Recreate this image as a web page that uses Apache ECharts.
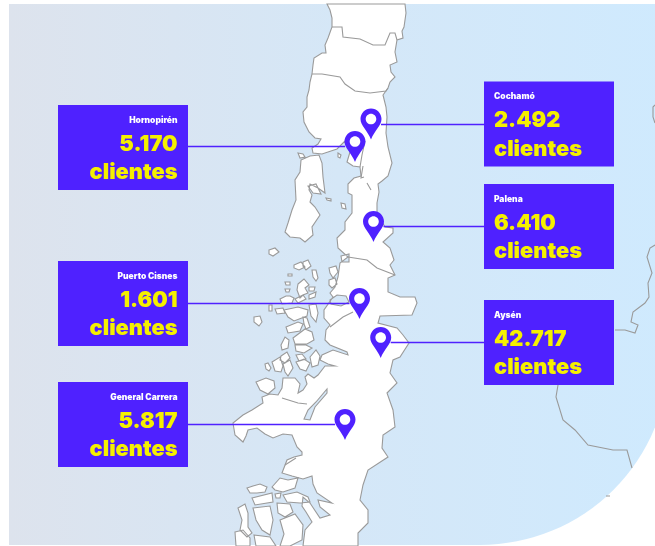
<!DOCTYPE html>
<html>
<head>
<meta charset="utf-8">
<style>html,body{margin:0;padding:0;background:#fff}#main{width:655px;height:546px}</style>
<script src="https://cdn.jsdelivr.net/npm/echarts@6/dist/echarts.min.js"></script>
</head>
<body>
<div id="main"></div>
<script>
// datos
var comunas = ['Hornopirén', 'Cochamó', 'Palena', 'Puerto Cisnes', 'Aysén', 'General Carrera'];
var clientes = [5170, 2492, 6410, 1601, 42717, 5817];
var unidad = 'clientes';
// punta de cada pin, en coordenadas del mapa (x, -y de la lámina)
var pinLng = [355, 371, 373.5, 359.5, 380.7, 345];
var pinLat = [-162, -139.5, -242, -319, -358, -440];

// contornos del mapa, trazados a mano sobre la lámina
var tierraFirme = [[327,4],[330,10],[332,18],[332,27],[328,38],[325,45],[326,53],[322,53],[314,58],[313,65],[312,74],[310,82],[309,90],[307,97],[307,107],[303,112],[304,122],[309,132],[315,138],[321,139],[318,144],[312,148],[313,153],[322,154],[337,149],[345,141],[350,152],[347,162],[353,166],[360,167],[361,176],[354,178],[348,184],[348,193],[352,195],[352,213],[345,222],[345,230],[337,238],[338,248],[348,257],[340,263],[338,277],[335,287],[330,293],[333,297],[324,310],[324,318],[330,325],[326,330],[325,340],[330,345],[347,352],[348,355],[333,350],[322,355],[320,360],[328,364],[335,366],[325,366],[318,375],[314,378],[308,374],[305,377],[307,384],[303,390],[298,393],[300,384],[295,378],[290,378],[283,378],[282,388],[278,395],[270,394],[262,397],[263,403],[252,410],[243,415],[233,423],[235,435],[243,442],[246,436],[248,430],[257,428],[265,434],[273,438],[283,434],[292,435],[297,447],[302,452],[302,455],[294,457],[287,460],[282,473],[292,476],[303,479],[312,476],[313,484],[317,493],[332,503],[318,500],[320,507],[330,515],[320,518],[310,503],[303,497],[302,506],[306,512],[312,522],[305,530],[303,546],[358,546],[358,533],[368,523],[368,510],[360,500],[363,485],[368,470],[388,457],[382,448],[383,435],[395,427],[393,410],[387,393],[397,383],[390,373],[393,360],[400,357],[409,343],[403,335],[397,328],[378,323],[380,316],[412,315],[417,303],[415,297],[400,297],[388,292],[388,278],[395,275],[390,265],[394,260],[390,248],[383,242],[393,233],[393,228],[385,227],[377,213],[377,203],[379,192],[378,184],[382,181],[388,176],[392,163],[388,147],[386,133],[387,117],[386,107],[383,95],[388,88],[390,82],[395,77],[391,72],[390,65],[397,62],[395,52],[397,40],[403,38],[402,31],[404,27],[406,13],[405,4]];
var lagunaSanRafael = [[327,389],[327,393],[315,407],[310,420],[304,419],[308,410],[316,402]];
var chiloe = [[301,160],[310,156],[319,155],[322,163],[323,177],[325,193],[318,188],[310,184],[309,190],[312,195],[310,202],[315,207],[320,215],[312,227],[313,235],[305,242],[300,238],[290,237],[285,232],[288,223],[292,210],[296,200],[295,180],[300,172]];
var islas = [
  [[298,153],[303,154],[305,157],[300,158]],
  [[338,153],[341,155],[340,158],[338,157]],
  [[269,250],[275,248],[279,252],[273,256],[269,254]],
  [[294,265],[301,262],[305,267],[299,270],[294,268]],
  [[303,262],[308,260],[311,266],[306,270],[303,266]],
  [[312,270],[316,270],[318,278],[316,281],[313,277]],
  [[288,274],[292,274],[292,276],[288,276]],
  [[285,282],[290,282],[290,285],[286,285]],
  [[285,289],[290,289],[289,292],[286,292]],
  [[298,284],[304,279],[309,285],[305,288],[308,293],[303,295],[300,298],[297,290]],
  [[309,287],[315,287],[314,291],[309,291]],
  [[309,295],[316,292],[315,297],[309,299]],
  [[280,299],[286,296],[290,296],[294,298],[292,303],[282,304]],
  [[295,299],[303,295],[306,299],[298,303]],
  [[269,305],[272,305],[272,311],[269,311]],
  [[254,317],[260,316],[262,322],[259,326],[254,322]],
  [[275,309],[283,308],[285,313],[277,314]],
  [[284,310],[298,307],[308,310],[307,316],[294,321],[288,317]],
  [[309,305],[316,304],[318,313],[316,322],[311,316]],
  [[286,327],[298,322],[303,324],[300,331],[288,333]],
  [[303,317],[307,318],[310,327],[306,329],[304,324]],
  [[293,338],[305,329],[312,332],[314,340],[307,344],[295,344]],
  [[281,345],[285,337],[289,340],[288,348],[282,350]],
  [[295,345],[306,345],[312,348],[304,353],[296,351]],
  [[281,356],[287,352],[290,358],[285,363],[280,360]],
  [[296,355],[302,354],[306,359],[299,361]],
  [[310,357],[316,350],[320,356],[318,365],[312,367]],
  [[329,268],[336,266],[338,272],[333,278],[330,273]],
  [[329,280],[335,278],[337,284],[332,288],[329,285]],
  [[330,300],[337,295],[346,296],[349,302],[341,306],[331,304]],
  [[341,256],[349,254],[349,262],[342,262]],
  [[308,186],[316,184],[321,194],[313,193]],
  [[326,198],[331,199],[331,201],[327,200]],
  [[341,203],[345,204],[346,209],[342,208]],
  [[265,364],[268,363],[271,368],[269,371],[266,369]],
  [[272,362],[280,357],[283,366],[281,372],[275,371]],
  [[283,364],[290,360],[293,368],[288,376],[285,372]],
  [[296,362],[304,359],[310,363],[306,371],[300,369]],
  [[256,382],[266,378],[274,381],[275,388],[268,394],[260,390]],
  [[247,488],[253,486],[260,484],[267,487],[265,492],[257,493],[250,493]],
  [[272,487],[280,478],[288,480],[298,478],[295,488],[283,492],[275,490]],
  [[275,494],[281,493],[280,498],[276,498]],
  [[283,495],[297,492],[308,497],[310,502],[300,503],[287,502]],
  [[238,508],[245,504],[248,513],[248,527],[252,533],[247,537],[240,530],[242,520]],
  [[235,532],[243,530],[250,538],[250,546],[236,546]],
  [[252,498],[272,493],[273,502],[255,505]],
  [[253,508],[270,506],[273,520],[270,535],[262,530],[256,520]],
  [[254,535],[270,537],[276,546],[256,546]],
  [[277,503],[290,504],[293,512],[285,517],[278,513]],
  [[280,520],[295,514],[303,525],[302,540],[290,546],[280,546],[284,534]]
];
var limites = [
  [[332,27],[342,27],[343,37],[360,39],[373,45],[385,45],[390,33],[395,33],[397,40]],
  [[312,74],[322,74],[340,77],[345,84],[355,91],[370,93],[386,91],[388,88]],
  [[348,257],[367,260],[377,268],[395,275]],
  [[353,312],[343,317],[330,327]],
  [[365,141],[362,155],[360,167]],
  [[363,166],[361,178],[364,177]],
  [[367,183],[371,190]],
  [[282,398],[298,403],[307,404]],
  [[285,465],[296,458]]
];
var argentina = [
  [[655,105],[653,107],[653,117],[655,123]],
  [[655,245],[650,248],[647,257],[652,273],[648,283],[649,297],[645,303],[633,312],[631,322],[638,325],[635,333],[625,330],[615,330]],
  [[558,385],[556,397],[563,420],[575,430],[588,445],[613,450],[627,450],[632,468]],
  [[606,496],[610,496]]
];

// de la lámina al mapa: y hacia arriba
function flip(p) { return [p[0], -p[1]]; }
function anillo(r) { return [r.map(flip)]; }
var poligonos = [[tierraFirme.map(flip), lagunaSanRafael.map(flip)], anillo(chiloe)].concat(islas.map(anillo));
var trazos = limites.concat(argentina).map(function (l) { return l.map(flip); });

echarts.registerMap('patagonia', {
  type: 'FeatureCollection',
  features: [
    { type: 'Feature', properties: { name: 'tierra' }, geometry: { type: 'MultiPolygon', coordinates: poligonos } },
    { type: 'Feature', properties: { name: 'limites' }, geometry: { type: 'MultiLineString', coordinates: trazos } }
  ]
});

// cajas: x, y de la esquina superior izquierda y lado del texto
var cajaW = 130, cajaH = 85;
var cajas = [
  { x: 58, y: 105, lado: 'right' },
  { x: 484, y: 81.5, lado: 'left' },
  { x: 484, y: 184, lado: 'left' },
  { x: 58, y: 261, lado: 'right' },
  { x: 484, y: 300, lado: 'left' },
  { x: 58, y: 382, lado: 'right' }
];
var azul = '#4f21ff', amarillo = '#f5f000';
var fuente = 'Inter, Lato, sans-serif';
var pinPath = 'path://M10.5 0C16.3 0 21 4.7 21 10.5C21 17 14 22 10.5 31C7 22 0 17 0 10.5C0 4.7 4.7 0 10.5 0ZM10.5 5.2C7.6 5.2 5.2 7.6 5.2 10.5C5.2 13.4 7.6 15.8 10.5 15.8C13.4 15.8 15.8 13.4 15.8 10.5C15.8 7.6 13.4 5.2 10.5 5.2Z';

function miles(n) { return String(n).replace(/\B(?=(\d{3})+$)/g, '.'); }

var elementos = [{
  type: 'rect', z: -10, silent: true,
  shape: { x: 9, y: 4, width: 660, height: 541, r: [0, 0, 189, 0] },
  style: {
    fill: new echarts.graphic.LinearGradient(0, 0, 1, 0, [
      { offset: 0, color: '#dde3ed' },
      { offset: 0.5, color: '#d5e7f7' },
      { offset: 1, color: '#cfeafe' }
    ])
  }
}];
var guias = [];
comunas.forEach(function (nombre, i) {
  var c = cajas[i], derecha = c.lado === 'right';
  var tx = derecha ? c.x + cajaW - 10.5 : c.x + 10;
  elementos.push({ type: 'rect', z: 50, silent: true, shape: { x: c.x, y: c.y, width: cajaW, height: cajaH }, style: { fill: azul } });
  [[nombre, 15, 8.5, '#ffffff'], [miles(clientes[i]), 39, 21.8, amarillo], [unidad, 67.5, 21.8, amarillo]].forEach(function (t) {
    elementos.push({
      type: 'text', z: 51, silent: true, x: tx, y: c.y + t[1],
      style: { text: t[0], font: '900 ' + t[2] + 'px ' + fuente, fill: t[3], align: c.lado, verticalAlign: 'middle' }
    });
  });
  // guia de la caja hasta la cabeza del pin
  var borde = derecha ? c.x + cajaW : c.x;
  var yGuia = pinLat[i] + 15.5;
  guias.push({ coords: [[borde, yGuia], [pinLng[i] + (derecha ? -10 : 10), yGuia]] });
});

var chart = echarts.init(document.getElementById('main'));
chart.setOption({
  animation: false,
  graphic: { elements: elementos },
  geo: {
    map: 'patagonia',
    silent: true,
    roam: false,
    aspectScale: 1,
    boundingCoords: [[0, 0], [655, -546]],
    left: 0, top: 0, right: 0, bottom: 0,
    label: { show: false },
    itemStyle: { areaColor: '#ffffff', borderColor: '#9a9a9a', borderWidth: 1.1 }
  },
  series: [
    {
      type: 'lines', coordinateSystem: 'geo', silent: true, z: 3,
      lineStyle: { color: azul, width: 1.3, opacity: 1, curveness: 0 },
      data: guias
    },
    {
      type: 'scatter', coordinateSystem: 'geo', silent: true, z: 4,
      symbol: pinPath, symbolSize: [21, 31], symbolOffset: [0, '-50%'],
      itemStyle: { color: azul, opacity: 1 },
      data: comunas.map(function (n, i) { return { name: n, value: [pinLng[i], pinLat[i], clientes[i]] }; })
    }
  ]
});
</script>
</body>
</html>
